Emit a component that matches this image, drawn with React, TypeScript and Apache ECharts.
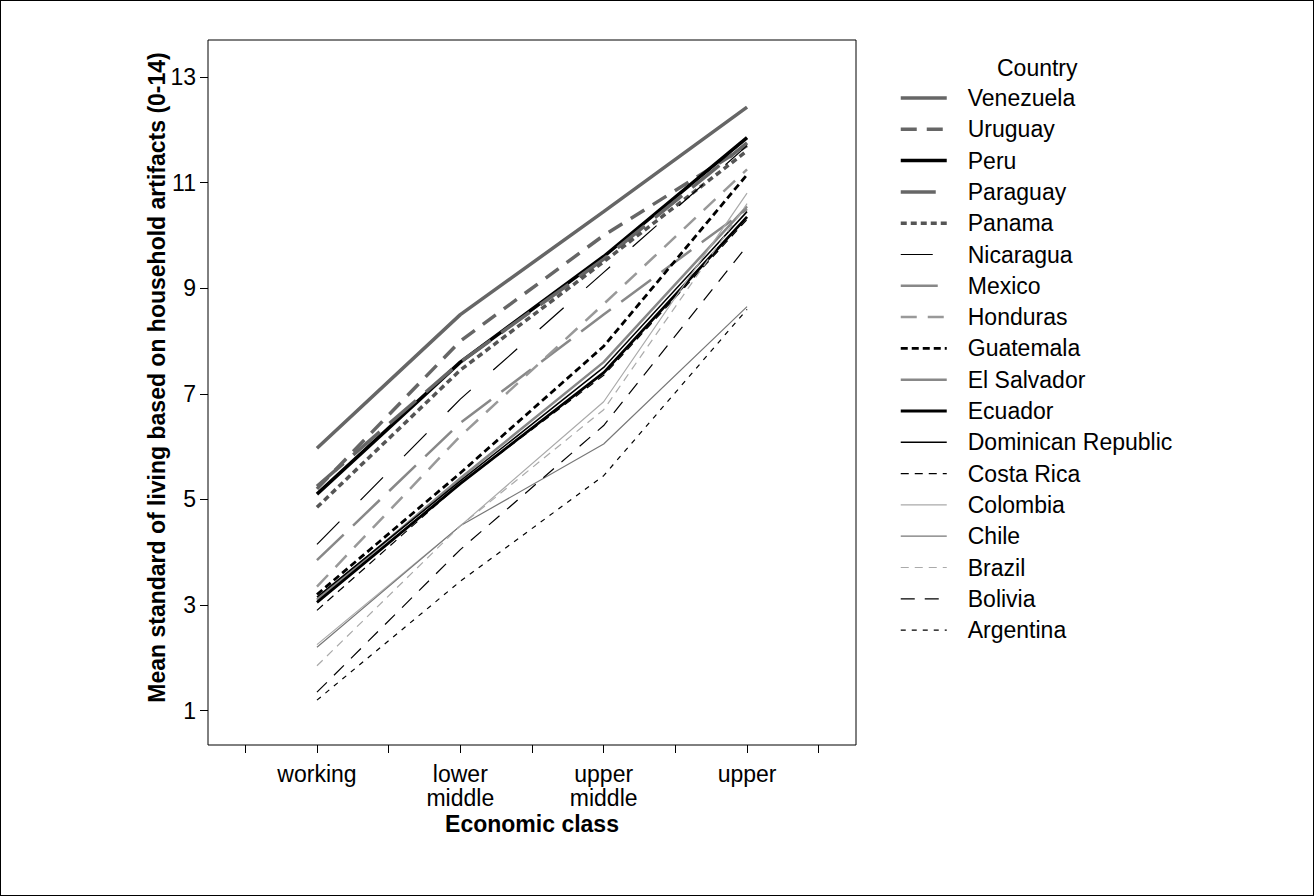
import React, { useEffect, useRef } from "react";
import * as echarts from "echarts";

const classes = ["working", "lower\nmiddle", "upper\nmiddle", "upper"];
const classPositions = [1, 2, 3, 4];
const minorTicks = [0.5, 1, 1.5, 2, 2.5, 3, 3.5, 4, 4.5];
const yTicks = [1, 3, 5, 7, 9, 11, 13];

const countries = [
  "Venezuela", "Uruguay", "Peru", "Paraguay", "Panama", "Nicaragua", "Mexico",
  "Honduras", "Guatemala", "El Salvador", "Ecuador", "Dominican Republic",
  "Costa Rica", "Colombia", "Chile", "Brazil", "Bolivia", "Argentina",
];

const venezuela = [5.97, 8.5, 10.45, 12.43];
const uruguay = [5.2, 8.0, 10.0, 11.7];
const peru = [5.1, 7.6, 9.6, 11.85];
const paraguay = [5.25, 7.6, 9.55, 11.75];
const panama = [4.85, 7.45, 9.5, 11.6];
const nicaragua = [4.15, 6.9, 9.3, 11.7];
const mexico = [3.85, 6.45, 8.5, 10.5];
const honduras = [3.35, 6.2, 8.7, 11.25];
const guatemala = [3.2, 5.5, 7.9, 11.15];
const elSalvador = [3.1, 5.4, 7.6, 10.55];
const ecuador = [3.05, 5.3, 7.4, 10.35];
const dominicanRepublic = [3.15, 5.35, 7.5, 10.45];
const costaRica = [2.9, 5.3, 7.35, 10.3];
const colombia = [2.25, 4.5, 6.85, 10.8];
const chile = [2.2, 4.5, 6.05, 8.65];
const brazil = [1.85, 4.5, 6.7, 10.6];
const bolivia = [1.35, 4.05, 6.4, 9.8];
const argentina = [1.2, 3.45, 5.45, 8.6];

const seriesValues = [
  venezuela, uruguay, peru, paraguay, panama, nicaragua, mexico, honduras,
  guatemala, elSalvador, ecuador, dominicanRepublic, costaRica, colombia,
  chile, brazil, bolivia, argentina,
];

// line styles (colour, width, dash) per country, in legend order
const lineColors = [
  "#666", "#666", "#000", "#666", "#555", "#000", "#888", "#999", "#000",
  "#888", "#000", "#000", "#000", "#aaa", "#777", "#aaa", "#000", "#000",
];
const lineWidths = [
  3.5, 3.5, 3.5, 3.5, 3.5, 1.2, 2.5, 2.5, 2.8, 2.5, 2.8, 1.5, 1.2, 1.2, 1.2,
  1.2, 1.2, 1.2,
];
const lineDashes: any[] = [
  "solid", [16, 10], "solid", [35, 13], [6, 4], [32, 30], [37, 13], [16, 11],
  [7, 4], "solid", "solid", "solid", [8, 6], "solid", "solid", [8, 6],
  [14, 10], [5, 6],
];

const FONT = "'Liberation Sans', Arial, Helvetica, sans-serif";

export default function App() {
  const ref = useRef<HTMLDivElement>(null);

  useEffect(() => {
    if (!ref.current) return;
    const chart = echarts.init(ref.current, null, { renderer: "svg" });

    const series = countries.map((name, i) => ({
      name,
      type: "line",
      data: seriesValues[i].map((v, j) => [classPositions[j], v]),
      symbol: "none",
      showSymbol: false,
      silent: true,
      lineStyle: {
        color: lineColors[i],
        width: lineWidths[i],
        type: lineDashes[i],
        cap: "butt",
      },
      itemStyle: { color: lineColors[i] },
      emphasis: { disabled: true },
    }));

    chart.setOption({
      animation: false,
      backgroundColor: "#fff",
      textStyle: { fontFamily: FONT },
      title: {
        text: "Country",
        left: 991,
        top: 50,
        textStyle: { fontFamily: FONT, fontWeight: "normal", fontSize: 23, color: "#000" },
      },
      legend: {
        orient: "vertical",
        left: 893,
        top: 80.5,
        itemWidth: 46,
        itemHeight: 20,
        itemGap: 8.3,
        selectedMode: false,
        data: countries.map((name, i) => ({
          name,
          lineStyle: { width: lineWidths[i], type: lineDashes[i], color: lineColors[i] },
        })),
        itemStyle: { opacity: 0 },
        lineStyle: { width: "inherit" },
        textStyle: {
          fontFamily: FONT,
          fontSize: 23,
          color: "#000",
          lineHeight: 20,
          padding: [0, 0, 0, 16],
        },
      },
      grid: {
        left: 207,
        top: 39,
        width: 648,
        height: 705,
        show: true,
        borderColor: "#000",
        borderWidth: 1,
        backgroundColor: "transparent",
      },
      xAxis: {
        type: "value",
        min: 0.24,
        max: 4.76,
        splitLine: { show: false },
        axisLine: { show: false },
        axisTick: {
          show: true,
          length: 8,
          lineStyle: { color: "#000" },
          customValues: minorTicks,
        },
        axisLabel: {
          customValues: classPositions,
          formatter: (v: number) => classes[Math.round(v) - 1] ?? "",
          fontFamily: FONT,
          fontSize: 23,
          color: "#000",
          lineHeight: 24,
          margin: 17,
        },
        name: "Economic class",
        nameLocation: "middle",
        nameGap: 67,
        nameMoveOverlap: false,
        nameTextStyle: { fontFamily: FONT, fontSize: 23, fontWeight: "bold", color: "#000" },
      },
      yAxis: {
        type: "value",
        min: 0.35,
        max: 13.7,
        splitLine: { show: false },
        axisLine: { show: false },
        axisTick: {
          show: true,
          length: 8,
          lineStyle: { color: "#000" },
          customValues: yTicks,
        },
        axisLabel: {
          customValues: yTicks,
          fontFamily: FONT,
          fontSize: 23,
          color: "#000",
          margin: 12,
        },
        name: "Mean standard of living based on household artifacts (0-14)",
        nameLocation: "middle",
        nameGap: 40,
        nameMoveOverlap: false,
        nameTextStyle: {
          fontFamily: FONT,
          fontSize: 23,
          fontWeight: "bold",
          color: "#000",
          padding: [0, 0, 0, 30],
        },
      },
      series,
    });

    return () => chart.dispose();
  }, []);

  return (
    <div
      style={{
        position: "absolute",
        left: 0,
        top: 0,
        width: 1314,
        height: 896,
        boxSizing: "border-box",
        border: "1px solid #000",
        background: "#fff",
      }}
    >
      <div ref={ref} style={{ width: 1312, height: 894 }} />
    </div>
  );
}
